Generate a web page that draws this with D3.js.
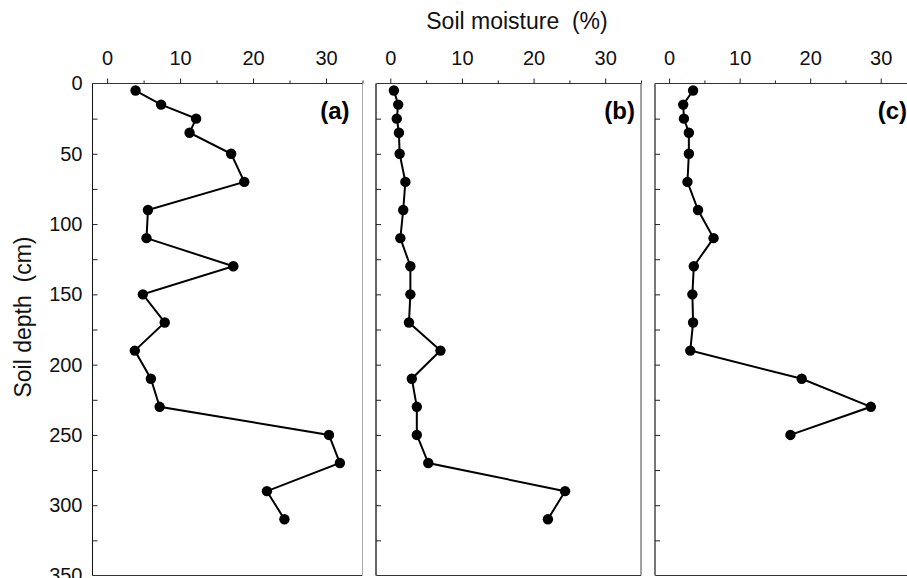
<!DOCTYPE html>
<html>
<head>
<meta charset="utf-8">
<script src="https://cdn.jsdelivr.net/npm/d3@7"></script>
<style>
  body { margin: 0; background: #fff; }
  svg { display: block; }
  text { font-family: "Liberation Sans", Arial, Helvetica, sans-serif; white-space: pre; }
  .plabel { font-weight: bold; }
</style>
</head>
<body>
<div id="chart"></div>
<script>
// chart size
const width = 907;
const height = 578;

// data
const panelNames = ["(a)", "(b)", "(c)"];
const depths = [5, 15, 25, 35, 50, 70, 90, 110, 130, 150, 170, 190, 210, 230, 250, 270, 290, 310];
const moistureA = [3.9, 7.4, 12.2, 11.3, 17.0, 18.8, 5.6, 5.4, 17.3, 4.9, 7.9, 3.8, 6.0, 7.2, 30.4, 31.9, 21.9, 24.3];
const moistureB = [0.5, 1.1, 0.9, 1.2, 1.3, 2.1, 1.8, 1.4, 2.8, 2.8, 2.6, 7.0, 3.0, 3.7, 3.7, 5.3, 24.4, 22.0];
const moistureC = [3.4, 2.0, 2.1, 2.8, 2.8, 2.6, 4.1, 6.3, 3.5, 3.3, 3.4, 3.0, 18.8, 28.6, 17.2];
const xMajorTicks = [0, 10, 20, 30];
const xMinorTicks = [5, 15, 25, 35];
const depthTicks = [0, 50, 100, 150, 200, 250, 300, 350];
const depthMinorTicks = d3.range(0, 351, 25);

// panel layout (left/right pixel edges of each frame)
const panels = [
  {name: panelNames[0], values: moistureA, left: 92.5, right: 362.5, inset: 13, leftStroke: "#111", leftW: 1, rightStroke: "#aaa", rightW: 1},
  {name: panelNames[1], values: moistureB, left: 376, right: 641, inset: 6, leftStroke: "#666", leftW: 2, rightStroke: "#444", rightW: 1},
  {name: panelNames[2], values: moistureC, left: 655, right: 916, inset: 9, leftStroke: "#777", leftW: 2, rightStroke: "#444", rightW: 1}
];
const frameTop = 83.5;
const frameBottom = 575.5;

const svg = d3.select("#chart")
  .append("svg")
  .attr("width", width)
  .attr("height", height);

// shared depth scale
const yScale = d3.scaleLinear()
  .domain([0, 350])
  .range([frameTop, frameBottom]);

panels.forEach(function(p, k) {
  const xScale = d3.scaleLinear()
    .domain([-2, 35])
    .range([p.left, p.right]);

  const g = svg.append("g");

  // frame
  g.append("line").attr("x1", p.left).attr("x2", p.right).attr("y1", frameTop).attr("y2", frameTop)
    .attr("stroke", "#333").attr("stroke-width", 1.2);
  g.append("line").attr("x1", p.left).attr("x2", p.right).attr("y1", frameBottom).attr("y2", frameBottom)
    .attr("stroke", "#333").attr("stroke-width", 1.2);
  g.append("line").attr("x1", p.left).attr("x2", p.left).attr("y1", frameTop).attr("y2", frameBottom)
    .attr("stroke", p.leftStroke).attr("stroke-width", p.leftW);
  g.append("line").attr("x1", p.right).attr("x2", p.right).attr("y1", frameTop).attr("y2", frameBottom)
    .attr("stroke", p.rightStroke).attr("stroke-width", p.rightW);

  // top axis, major ticks with labels
  const topAxis = g.append("g")
    .attr("transform", `translate(0,${frameTop})`)
    .call(d3.axisTop(xScale).tickValues(xMajorTicks).tickSize(5).tickPadding(14).tickFormat(d3.format("d")));
  topAxis.select(".domain").remove();
  topAxis.selectAll("line").attr("stroke", "#222");
  topAxis.selectAll("text").attr("font-size", "20px").attr("fill", "#111")
    .style("font-family", "'Liberation Sans', Arial, sans-serif");

  // top axis, minor ticks
  const topMinor = g.append("g")
    .attr("transform", `translate(0,${frameTop})`)
    .call(d3.axisTop(xScale).tickValues(xMinorTicks).tickSize(3).tickFormat(""));
  topMinor.select(".domain").remove();
  topMinor.selectAll("line").attr("stroke", "#222");

  // inside ticks along the left edge
  const leftTicks = g.append("g")
    .attr("transform", `translate(${p.left},0)`)
    .call(d3.axisRight(yScale).tickValues(depthMinorTicks.slice(1, -1)).tickSize(5).tickFormat(""));
  leftTicks.select(".domain").remove();
  leftTicks.selectAll("line").attr("stroke", "#222");

  // depth labels only on the first panel
  if (k === 0) {
    const leftAxis = g.append("g")
      .attr("transform", `translate(${p.left},0)`)
      .call(d3.axisLeft(yScale).tickValues(depthTicks).tickSize(0).tickPadding(10));
    leftAxis.select(".domain").remove();
    leftAxis.selectAll("text").attr("font-size", "20px").attr("fill", "#111")
      .style("font-family", "'Liberation Sans', Arial, sans-serif");
  }

  // profile line and points
  const pts = p.values.map((v, i) => ({x: v, y: depths[i]}));
  const line = d3.line().x(d => xScale(d.x)).y(d => yScale(d.y));

  g.append("path")
    .datum(pts)
    .attr("d", line)
    .attr("fill", "none")
    .attr("stroke", "#000")
    .attr("stroke-width", 2);

  g.selectAll(".pt")
    .data(pts)
    .enter()
    .append("circle")
      .attr("class", "pt")
      .attr("cx", d => xScale(d.x))
      .attr("cy", d => yScale(d.y))
      .attr("r", 5.2)
      .attr("fill", "#000");

  // panel letter
  g.append("text")
    .attr("class", "plabel")
    .attr("x", p.right - p.inset)
    .attr("y", 119)
    .attr("text-anchor", "end")
    .attr("font-size", "24px")
    .attr("fill", "#000")
    .text(p.name);
});

// axis titles
svg.append("text")
  .attr("x", 517)
  .attr("y", 29)
  .attr("text-anchor", "middle")
  .attr("font-size", "23px")
  .attr("fill", "#111")
  .text("Soil moisture  (%)");

svg.append("text")
  .attr("transform", "translate(31,317) rotate(-90)")
  .attr("text-anchor", "middle")
  .attr("font-size", "23px")
  .attr("fill", "#111")
  .text("Soil depth  (cm)");
</script>
</body>
</html>
